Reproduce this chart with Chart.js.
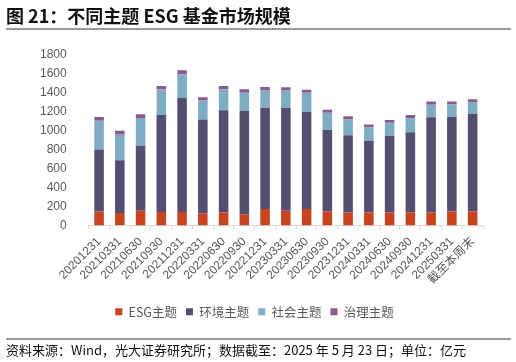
<!DOCTYPE html>
<html>
<head>
<meta charset="utf-8">
<script src="https://cdn.jsdelivr.net/npm/chart.js@4.4.1/dist/chart.umd.min.js"></script>
<style>
html,body{margin:0;padding:0;background:#fff;}
#wrap{position:relative;width:516px;height:362px;}
</style>
</head>
<body>
<div id="wrap"><canvas id="c" width="516" height="362"></canvas></div>
<script>
const categories = ["20201231","20210331","20210630","20210930","20211231","20220331","20220630","20220930","20221231","20230331","20230630","20230930","20231231","20240331","20240630","20240930","20241231","20250331","截至本周末"];
const seriesNames = ["ESG主题","环境主题","社会主题","治理主题"];
const esgValues    = [147,133,157,143,143,129,136,119,175,157,175,147,136,136,136,136,136,147,147];
const envValues    = [656,555,685,1024,1202,989,1080,1090,1068,1083,1023,862,818,755,811,849,1006,1002,1034];
const socialValues = [304,269,293,269,248,202,220,192,182,185,203,182,164,143,139,150,133,129,122];
const govValues    = [39,42,39,38,45,35,38,38,38,35,31,32,35,31,28,32,35,32,31];
const yTicks = [0,200,400,600,800,1000,1200,1400,1600,1800];
const titleText = "图 21：不同主题 ESG 基金市场规模";
const footerText = "资料来源：Wind，光大证券研究所；数据截至：2025 年 5 月 23 日；单位：亿元";
const colors = ["#C8431F","#544F70","#7FADC4","#8B5A8E"];

const FONT = "'Noto Sans CJK SC','Liberation Sans',Arial,sans-serif";
const TICKFONT = "'Liberation Sans',Arial,'Noto Sans CJK SC',sans-serif";

const decor = {
  id:'decor',
  afterDraw(chart){
    const ctx = chart.ctx;
    ctx.save();
    ctx.fillStyle = '#111';
    ctx.font = "bold 18px " + FONT;
    ctx.textBaseline = 'middle';
    ctx.textAlign = 'left';
    ctx.fillText(titleText, 6, 16);
    ctx.strokeStyle = '#777';
    ctx.lineWidth = 1.5;
    ctx.beginPath(); ctx.moveTo(6, 29); ctx.lineTo(511, 29); ctx.stroke();
    ctx.beginPath(); ctx.moveTo(6, 339); ctx.lineTo(511, 339); ctx.stroke();
    ctx.fillStyle = '#111';
    ctx.font = "13px " + FONT;
    ctx.fillText(footerText, 6, 350);
    ctx.restore();
  }
};

new Chart(document.getElementById('c'), {
  type:'bar',
  data:{
    labels: categories,
    datasets:[
      {label:seriesNames[0], data:esgValues, backgroundColor:colors[0]},
      {label:seriesNames[1], data:envValues, backgroundColor:colors[1]},
      {label:seriesNames[2], data:socialValues, backgroundColor:colors[2]},
      {label:seriesNames[3], data:govValues, backgroundColor:colors[3]}
    ]
  },
  options:{
    responsive:false,
    animation:false,
    devicePixelRatio:1,
    datasets:{bar:{categoryPercentage:1.0, barPercentage:0.46, borderWidth:0}},
    layout:{padding:{left:26, right:33, top:55, bottom:34}},
    plugins:{
      legend:{
        position:'bottom',
        labels:{boxWidth:7, boxHeight:7, color:'#595959', font:{family:FONT, size:12.5}, padding:9}
      },
      tooltip:{enabled:false}
    },
    scales:{
      x:{
        stacked:true,
        afterFit(axis){ axis.height = 71; },
        grid:{display:true, drawOnChartArea:false, drawTicks:true, tickLength:4, color:'#d9d9d9', offset:true},
        border:{display:true, color:'#d9d9d9', width:1},
        ticks:{color:'#595959', font:{family:TICKFONT, size:12}, maxRotation:45, minRotation:45, autoSkip:false, padding:5}
      },
      y:{
        stacked:true,
        min:0, max:1800,
        afterBuildTicks(axis){ axis.ticks = yTicks.map(v=>({value:v})); },
        grid:{display:false},
        border:{display:false},
        ticks:{color:'#595959', font:{family:TICKFONT, size:12}, padding:14, callback:(v)=>String(v)}
      }
    }
  },
  plugins:[decor]
});
</script>
</body>
</html>
